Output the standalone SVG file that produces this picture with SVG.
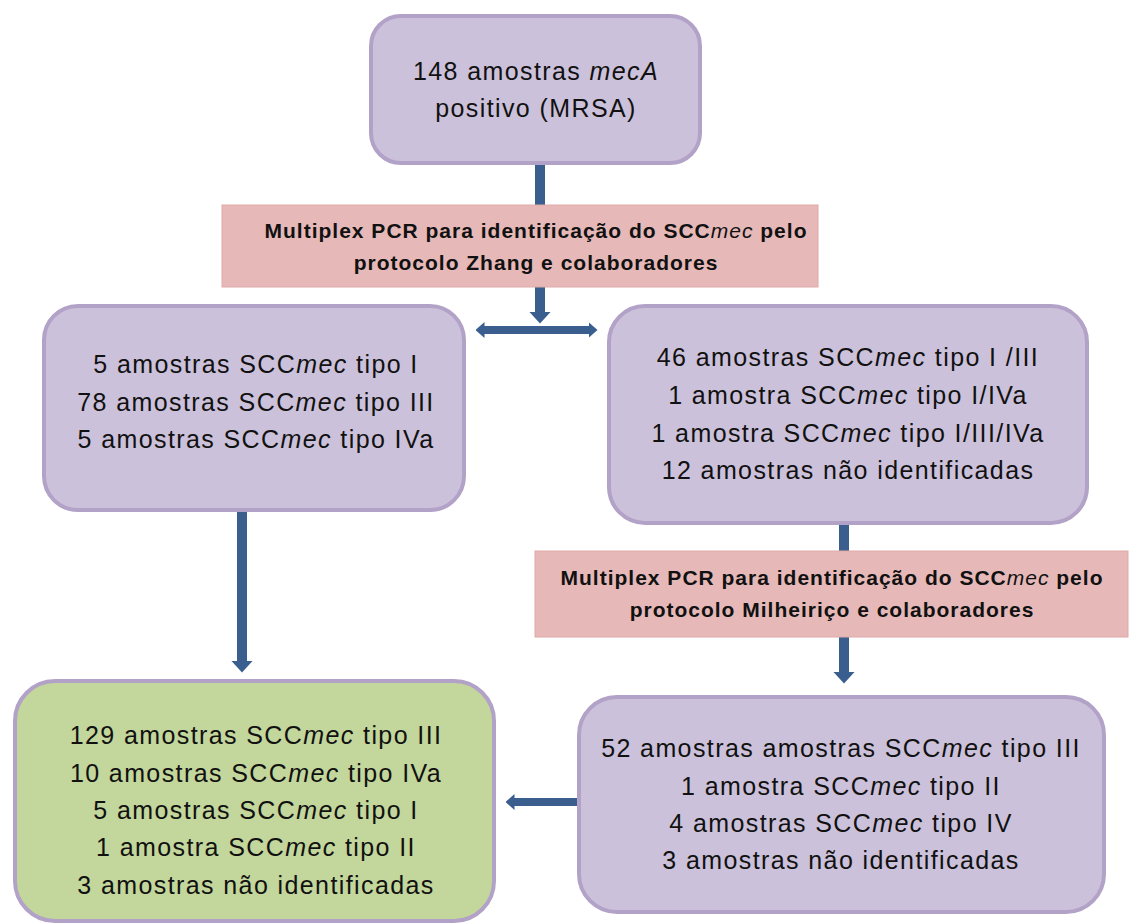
<svg xmlns="http://www.w3.org/2000/svg" width="1130" height="924" viewBox="0 0 1130 924">
<style>
.node{fill:#CCC1DA;stroke:#B3A2C7;stroke-width:4}
.green{fill:#C3D69B;stroke:#B3A2C7;stroke-width:4}
.pink{fill:#E6B9B8;stroke:#DDA9A8;stroke-width:1}
.t{font-family:"Liberation Sans",Arial,sans-serif;font-size:25px;fill:#111111;text-anchor:middle;letter-spacing:1.4px}
.p{font-family:"Liberation Sans",Arial,sans-serif;font-size:21px;font-weight:bold;fill:#111111;text-anchor:middle;letter-spacing:1px}
.i{font-style:italic;font-weight:normal}
.c{stroke:#3A5F8F;stroke-width:10;fill:none}
.cs{stroke:#3A5F8F;stroke-width:8;fill:none}
</style>
<defs>
<marker id="ah" viewBox="0 0 12 22" refX="0.5" refY="11" markerWidth="12" markerHeight="22" orient="auto" markerUnits="userSpaceOnUse"><path d="M0,0 L12,11 L0,22 z" fill="#3A5F8F"/></marker>
<marker id="as" viewBox="0 0 9 16" refX="0.5" refY="8" markerWidth="9" markerHeight="16" orient="auto-start-reverse" markerUnits="userSpaceOnUse"><path d="M0,0 L9,8 L0,16 z" fill="#3A5F8F"/></marker>
</defs>
<rect width="1130" height="924" fill="#ffffff"/>
<g id="connectors">
<line class="c" x1="540" y1="163" x2="540" y2="206"/>
<line class="c" x1="540" y1="287" x2="540" y2="312" marker-end="url(#ah)"/>
<line class="cs" x1="484" y1="330" x2="589" y2="330" marker-start="url(#as)" marker-end="url(#as)"/>
<line class="c" x1="242" y1="510" x2="242" y2="661" marker-end="url(#ah)"/>
<line class="c" x1="844" y1="523" x2="844" y2="552"/>
<line class="c" x1="844" y1="637" x2="844" y2="672" marker-end="url(#ah)"/>
<line class="cs" x1="580" y1="802" x2="514" y2="802" marker-end="url(#as)"/>
</g>
<g id="n-top">
<rect class="node" x="371" y="16" width="329" height="147" rx="30"/>
<text class="t" x="536" y="80">148 amostras <tspan class="i">mecA</tspan></text>
<text class="t" x="536" y="117">positivo (MRSA)</text>
</g>
<g id="pcr1">
<rect class="pink" x="222" y="205" width="596" height="82"/>
<text class="p" x="536" y="238">Multiplex PCR para identificação do SCC<tspan class="i">mec</tspan> pelo</text>
<text class="p" x="536" y="270">protocolo Zhang e colaboradores</text>
</g>
<g id="n-left">
<rect class="node" x="44" y="306" width="420" height="204" rx="34"/>
<text class="t" x="256" y="373">5 amostras SCC<tspan class="i">mec</tspan> tipo I</text>
<text class="t" x="256" y="411">78 amostras SCC<tspan class="i">mec</tspan> tipo III</text>
<text class="t" x="256" y="448">5 amostras SCC<tspan class="i">mec</tspan> tipo IVa</text>
</g>
<g id="n-right">
<rect class="node" x="609" y="306" width="478" height="217" rx="36"/>
<text class="t" x="848" y="366">46 amostras SCC<tspan class="i">mec</tspan> tipo I /III</text>
<text class="t" x="848" y="404">1 amostra SCC<tspan class="i">mec</tspan> tipo I/IVa</text>
<text class="t" x="848" y="442">1 amostra SCC<tspan class="i">mec</tspan> tipo I/III/IVa</text>
<text class="t" x="848" y="479">12 amostras não identificadas</text>
</g>
<g id="pcr2">
<rect class="pink" x="535" y="551" width="593" height="86"/>
<text class="p" x="832" y="585">Multiplex PCR para identificação do SCC<tspan class="i">mec</tspan> pelo</text>
<text class="p" x="832" y="617">protocolo Milheiriço e colaboradores</text>
</g>
<g id="n-result">
<rect class="green" x="15" y="681" width="479" height="240" rx="40"/>
<text class="t" x="256" y="744">129 amostras SCC<tspan class="i">mec</tspan> tipo III</text>
<text class="t" x="256" y="782">10 amostras SCC<tspan class="i">mec</tspan> tipo IVa</text>
<text class="t" x="256" y="819">5 amostras SCC<tspan class="i">mec</tspan> tipo I</text>
<text class="t" x="256" y="856">1 amostra SCC<tspan class="i">mec</tspan> tipo II</text>
<text class="t" x="256" y="894">3 amostras não identificadas</text>
</g>
<g id="n-bottom-right">
<rect class="node" x="579" y="697" width="525" height="215" rx="38"/>
<text class="t" x="841" y="757">52 amostras amostras SCC<tspan class="i">mec</tspan> tipo III</text>
<text class="t" x="841" y="795">1 amostra SCC<tspan class="i">mec</tspan> tipo II</text>
<text class="t" x="841" y="832">4 amostras SCC<tspan class="i">mec</tspan> tipo IV</text>
<text class="t" x="841" y="869">3 amostras não identificadas</text>
</g>
</svg>
